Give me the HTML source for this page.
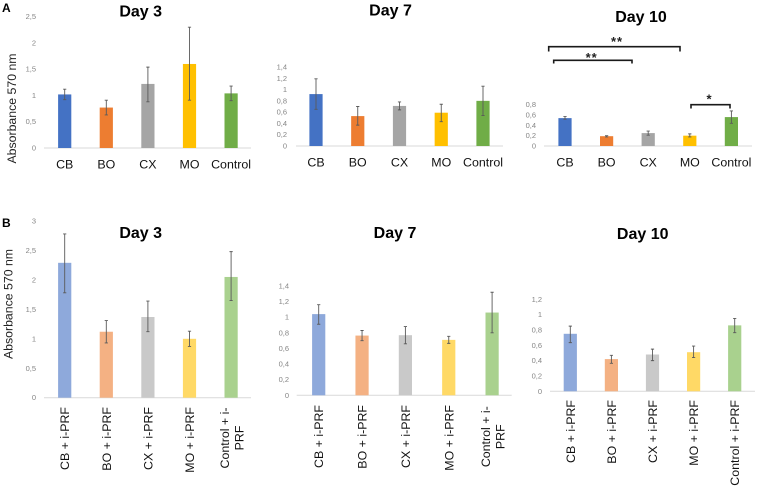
<!DOCTYPE html>
<html lang="en">
<head>
<meta charset="utf-8">
<title>Absorbance at 570 nm by day</title>
<style>
  html, body { margin: 0; padding: 0; background: #fff; }
  svg { display: block; font-family: "Liberation Sans", sans-serif; filter: blur(0.3px); }
  .title { font-size: 16px; font-weight: bold; fill: #000; text-anchor: middle; }
  .panel { font-size: 12px; font-weight: bold; fill: #000; }
  .ytitle { font-size: 12.3px; fill: #222; text-anchor: middle; }
  .tick { font-size: 7.5px; fill: #858585; text-anchor: end; }
  .cat { font-size: 12.4px; fill: #111; text-anchor: middle; }
  .star { font-size: 13px; font-weight: bold; fill: #222; text-anchor: middle; letter-spacing: 1px; }
  .bracket { fill: none; stroke: #1a1a1a; stroke-width: 1.6; }
</style>
</head>
<body>
<svg id="figure" xmlns="http://www.w3.org/2000/svg" width="758" height="491" viewBox="0 0 758 491">
  <text class="panel" x="2" y="12">A</text>
  <text class="panel" x="2" y="227">B</text>

  <text class="title" x="140.7" y="16.5">Day 3</text>
  <text class="title" x="390.5" y="15.5">Day 7</text>
  <text class="title" x="641" y="22">Day 10</text>
  <text class="title" x="140.7" y="238">Day 3</text>
  <text class="title" x="395" y="238">Day 7</text>
  <text class="title" x="642.7" y="239">Day 10</text>

  <text class="ytitle" transform="translate(16 108.5) rotate(-90)">Absorbance 570 nm</text>
  <text class="ytitle" transform="translate(12.5 304) rotate(-90)">Absorbance 570 nm</text>

  <g id="charts"></g>

  <g>
    <path class="bracket" d="M548.7 51.5V46.7H680V51.5"/>
    <text class="star" x="617" y="46">**</text>
    <path class="bracket" d="M553.7 63.5V60.3H632V63.5"/>
    <text class="star" x="591.7" y="62">**</text>
    <path class="bracket" d="M691 108.5V104.7H730V108.5"/>
    <text class="star" x="709.5" y="103.5">*</text>
  </g>
</svg>

<script>
// ---- Data: categories ----
const catsA = ["CB", "BO", "CX", "MO", "Control"];
const catsB = ["CB + i-PRF", "BO + i-PRF", "CX + i-PRF", "MO + i-PRF", "Control + i-|PRF"];
const catsB10 = ["CB + i-PRF", "BO + i-PRF", "CX + i-PRF", "MO + i-PRF", "Control + i-PRF"];

// ---- Data: tick labels ----
const ticksA3 = ["0", "0,5", "1", "1,5", "2", "2,5"];
const ticksA7 = ["0", "0,2", "0,4", "0,6", "0,8", "1", "1,2", "1,4"];
const ticksA10 = ["0", "0,2", "0,4", "0,6", "0,8"];
const ticksB3 = ["0", "0,5", "1", "1,5", "2", "2,5", "3"];
const ticksB7 = ["0", "0,2", "0,4", "0,6", "0,8", "1", "1,2", "1,4"];
const ticksB10 = ["0", "0,2", "0,4", "0,6", "0,8", "1", "1,2"];

// ---- Data: series values and error amounts ----
const valuesA3 = [1.02, 0.77, 1.22, 1.60, 1.04];
const errUpA3 = [0.10, 0.14, 0.32, 0.70, 0.14];
const errDownA3 = [0.10, 0.14, 0.34, 0.69, 0.14];

const valuesA7 = [0.92, 0.53, 0.71, 0.59, 0.80];
const errUpA7 = [0.27, 0.17, 0.07, 0.15, 0.26];
const errDownA7 = [0.27, 0.16, 0.07, 0.16, 0.26];

const valuesA10 = [0.54, 0.19, 0.25, 0.20, 0.56];
const errUpA10 = [0.03, 0.01, 0.04, 0.035, 0.12];
const errDownA10 = [0.02, 0.015, 0.04, 0.025, 0.12];

const valuesB3 = [2.29, 1.12, 1.37, 1.00, 2.05];
const errUpB3 = [0.49, 0.19, 0.27, 0.13, 0.43];
const errDownB3 = [0.51, 0.19, 0.25, 0.13, 0.40];

const valuesB7 = [1.04, 0.765, 0.77, 0.71, 1.06];
const errUpB7 = [0.12, 0.065, 0.11, 0.045, 0.26];
const errDownB7 = [0.13, 0.065, 0.11, 0.045, 0.26];

const valuesB10 = [0.75, 0.42, 0.48, 0.51, 0.86];
const errUpB10 = [0.10, 0.05, 0.07, 0.08, 0.09];
const errDownB10 = [0.115, 0.055, 0.08, 0.07, 0.095];

// ---- Styling ----
const solidColors = ["#4472C4", "#ED7D31", "#A5A5A5", "#FFC000", "#70AD47"];
const lightColors = ["#8EA9DB", "#F4B183", "#C9C9C9", "#FFD966", "#A9D18E"];

const SVG_NS = "http://www.w3.org/2000/svg";
const root = document.getElementById("charts");

function add(parent, tag, attrs) {
  const el = document.createElementNS(SVG_NS, tag);
  for (const k in attrs) el.setAttribute(k, attrs[k]);
  parent.appendChild(el);
  return el;
}

function tickValue(label) {
  return parseFloat(label.replace(",", "."));
}

function drawChart(name, frame, cats, values, errUp, errDown, ticks, colors) {
  const domainMax = tickValue(ticks[ticks.length - 1]);
  const yScale = function (v) {
    return frame.base - (v / domainMax) * (frame.base - frame.top);
  };
  const xScale = function (i) {
    return frame.first + frame.step * i;
  };

  const g = add(root, "g", {});
  
  

  const axis = add(g, "line", { x1: frame.left, x2: frame.right, y1: frame.base, y2: frame.base, stroke: "#d9d9d9", "stroke-width": 1 });
  
  

  ticks.forEach(function (label) {
    const t = add(g, "text", { class: "tick", x: frame.labelRight, y: yScale(tickValue(label)) + 2.5 });
    
    
    t.textContent = label;
  });

  values.forEach(function (v, i) {
    const cx = xScale(i);
    const bar = add(g, "rect", { x: cx - 6.6, y: yScale(v), width: 13.2, height: frame.base - yScale(v), fill: colors[i] });
    
    

    const hi = yScale(v + errUp[i]);
    const lo = yScale(v - errDown[i]);
    const err = add(g, "path", {
      d: "M" + (cx - 1.6) + " " + hi + "H" + (cx + 1.6) + "M" + cx + " " + hi + "V" + lo + "M" + (cx - 1.6) + " " + lo + "H" + (cx + 1.6),
      fill: "none", stroke: "#5a5a5a", "stroke-width": 0.9
    });
    
    

    const parts = cats[i].split("|");
    if (frame.rotated) {
      if (parts.length === 1) {
        const lab = add(g, "text", { class: "cat", style: "text-anchor:end", transform: "translate(" + (cx + 4.5) + " " + frame.labelTop + ") rotate(-90)" });
        
        
        lab.textContent = parts[0];
      } else {
        parts.forEach(function (part, j) {
          const lab = add(g, "text", { class: "cat", transform: "translate(" + (cx - 2 + j * 14.2) + " " + frame.labelMid + ") rotate(-90)" });
          
          
          lab.textContent = part;
        });
      }
    } else {
      const lab = add(g, "text", { class: "cat", x: cx, y: frame.catY });
      
      
      lab.textContent = parts[0];
    }
  });
}

drawChart("a-day-3", { base: 148, top: 16.7, first: 64.7, step: 41.6, left: 44, right: 251, labelRight: 36, catY: 168.5 },
  catsA, valuesA3, errUpA3, errDownA3, ticksA3, solidColors);
drawChart("a-day-7", { base: 146, top: 67, first: 316, step: 41.75, left: 296, right: 503, labelRight: 287, catY: 166.5 },
  catsA, valuesA7, errUpA7, errDownA7, ticksA7, solidColors);
drawChart("a-day-10", { base: 146, top: 104.7, first: 565, step: 41.6, left: 544, right: 752, labelRight: 536, catY: 166.5 },
  catsA, valuesA10, errUpA10, errDownA10, ticksA10, solidColors);
drawChart("b-day-3", { base: 397.7, top: 221, first: 64.7, step: 41.6, left: 44, right: 251, labelRight: 36, rotated: true, labelTop: 407, labelMid: 438 },
  catsB, valuesB3, errUpB3, errDownB3, ticksB3, lightColors);
drawChart("b-day-7", { base: 395.3, top: 286, first: 318.7, step: 43.35, left: 296.7, right: 511.7, labelRight: 289, rotated: true, labelTop: 405, labelMid: 436.7 },
  catsB, valuesB7, errUpB7, errDownB7, ticksB7, lightColors);
drawChart("b-day-10", { base: 391.3, top: 299.3, first: 570.3, step: 41.1, left: 550, right: 755, labelRight: 542, rotated: true, labelTop: 400, labelMid: 440 },
  catsB10, valuesB10, errUpB10, errDownB10, ticksB10, lightColors);
</script>
</body>
</html>
